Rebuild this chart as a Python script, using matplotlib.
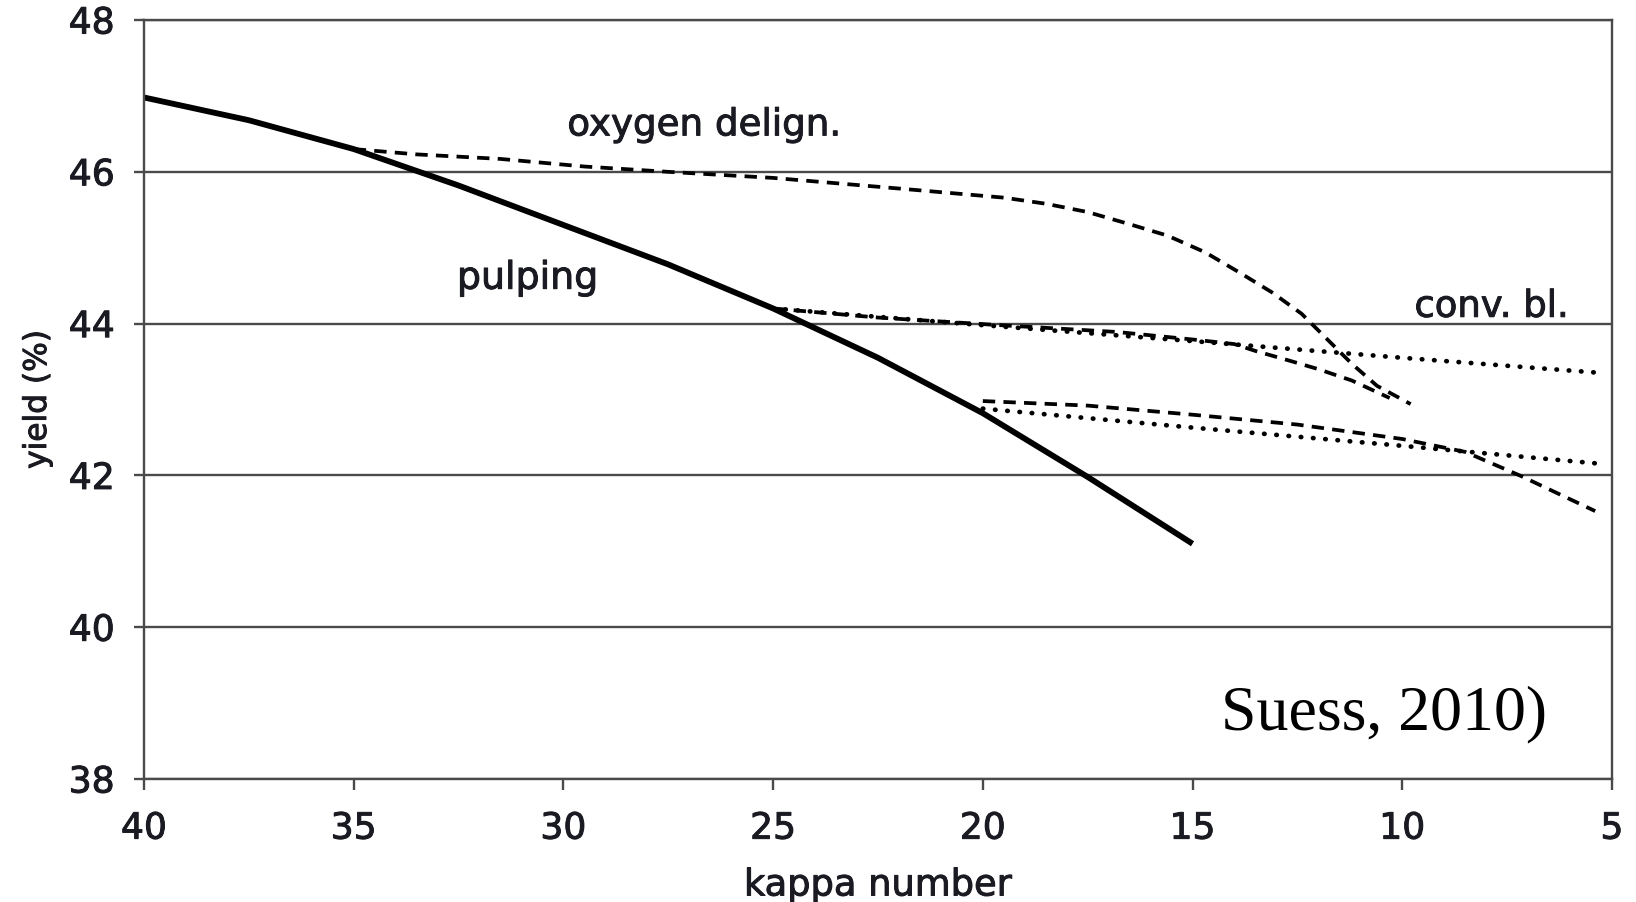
import matplotlib
matplotlib.use("Agg")
import matplotlib.pyplot as plt
import matplotlib.patheffects as pe

# ---- data (kappa number vs. yield %) ----
pulping_kappa = [40, 37.5, 35, 32.5, 30, 27.5, 25, 22.5, 20, 17.5, 15]
pulping_yield = [46.98, 46.68, 46.3, 45.82, 45.3, 44.78, 44.2, 43.55, 42.82, 41.98, 41.1]

oxygen_kappa = [35, 33.5, 31.5, 29.5, 27.5, 25, 22, 19.5, 18.5, 17.5, 16.5, 15.6,
                14.7, 13.9, 13.1, 12.4, 11.8, 11.2, 10.6, 9.8]
oxygen_yield = [46.3, 46.23, 46.17, 46.07, 46.0, 45.92, 45.78, 45.66, 45.58, 45.47,
                45.31, 45.16, 44.94, 44.68, 44.41, 44.13, 43.8, 43.47, 43.18, 42.94]

conv25_dash_kappa = [25, 22.5, 19.6, 16.8, 14.8, 14.0, 13.5, 12.8, 12.0, 11.2, 10.3]
conv25_dash_yield = [44.2, 44.08, 43.98, 43.89, 43.78, 43.73, 43.64, 43.53, 43.4, 43.25, 43.02]

conv25_dot_kappa = [25, 20, 15, 10, 5.25]
conv25_dot_yield = [44.2, 43.98, 43.77, 43.55, 43.35]

conv20_dash_kappa = [20, 17.5, 15, 12.5, 10, 8.5, 7.2, 5.4]
conv20_dash_yield = [42.98, 42.92, 42.8, 42.67, 42.48, 42.31, 42.0, 41.53]

conv20_dot_kappa = [20, 15, 10, 5.2]
conv20_dot_yield = [42.88, 42.63, 42.39, 42.15]

x_ticks = [40, 35, 30, 25, 20, 15, 10, 5]
y_ticks = [38, 40, 42, 44, 46, 48]

text_color = "#1a1a22"
grid_color = "#4a4a4a"
heavy = [pe.withStroke(linewidth=0.7, foreground=text_color)]

fig = plt.figure(figsize=(16.36, 9.03), dpi=100)
ax = fig.add_axes([0.0880, 0.1362, 0.8973, 0.8405])

ax.set_xlim(40, 5)
ax.set_ylim(38, 48)
ax.set_xticks(x_ticks)
ax.set_yticks(y_ticks)

ax.yaxis.grid(True, color=grid_color, linewidth=1.7)
ax.set_axisbelow(True)
for sp in ax.spines.values():
    sp.set_color(grid_color)
    sp.set_linewidth(1.7)

ax.tick_params(axis="y", direction="out", length=7.5, width=1.7, color=grid_color,
               pad=13.5, labelsize=26, labelcolor=text_color)
ax.tick_params(axis="x", direction="out", length=8, width=1.7, color=grid_color,
               pad=15.5, labelsize=26, labelcolor=text_color)
for lab in ax.get_xticklabels() + ax.get_yticklabels():
    lab.set_path_effects(heavy)

# pulping (solid)
ax.plot(pulping_kappa, pulping_yield, color="black", linewidth=4.2,
        solid_capstyle="butt", solid_joinstyle="round")

dash_kw = dict(color="black", linewidth=2.7, linestyle=(0, (3.3, 2.2)),
               dash_capstyle="butt")
dot_kw = dict(color="black", linewidth=3.4, linestyle=(0, (0.1, 2.5)),
              dash_capstyle="round")

ax.plot(oxygen_kappa, oxygen_yield, **dash_kw)
ax.plot(conv25_dash_kappa, conv25_dash_yield, **dash_kw)
ax.plot(conv25_dot_kappa, conv25_dot_yield, **dot_kw)
ax.plot(conv20_dash_kappa, conv20_dash_yield, **dash_kw)
ax.plot(conv20_dot_kappa, conv20_dot_yield, **dot_kw)

# annotations
ax.text(26.64, 46.48, "oxygen delign.", ha="center", va="baseline",
        fontsize=26.8, color=text_color, path_effects=heavy)
ax.text(30.85, 44.46, "pulping", ha="center", va="baseline",
        fontsize=27.3, color=text_color, path_effects=heavy)
ax.text(7.87, 44.09, "conv. bl.", ha="center", va="baseline",
        fontsize=26.6, color=text_color, path_effects=heavy)
ax.text(14.32, 38.66, "Suess, 2010)", ha="left", va="baseline",
        fontsize=46, color="black", family="Liberation Serif")

ax.set_xlabel("kappa number", fontsize=26.5, color=text_color, labelpad=15,
              path_effects=heavy)
ax.set_ylabel("yield (%)", fontsize=22.5, color=text_color, labelpad=12,
              path_effects=heavy)

fig.savefig("out.png", dpi=100)
